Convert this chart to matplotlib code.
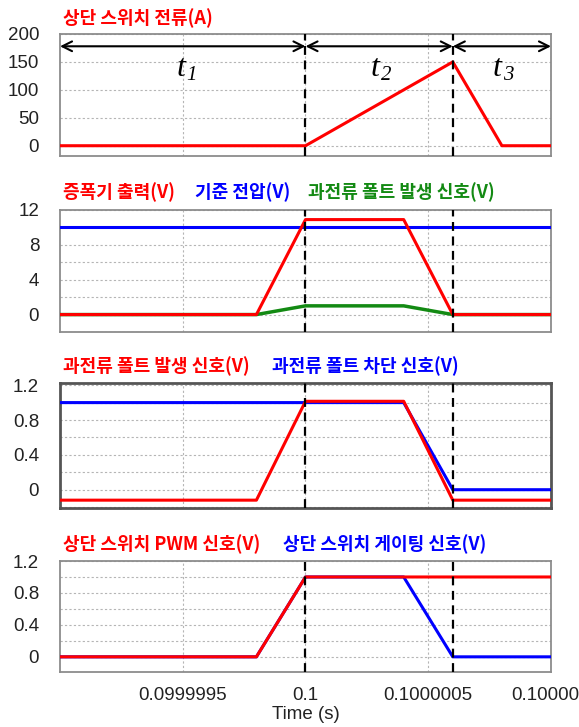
import matplotlib
matplotlib.use("Agg")
import matplotlib.pyplot as plt
from matplotlib.ticker import FixedLocator, MultipleLocator

plt.rcParams['font.family'] = ['Liberation Sans', 'DejaVu Sans']

# time axis (s)
x_lo, x_hi = 0.099999, 0.100001
x_ticks = [0.0999995, 0.1, 0.1000005, 0.100001]
x_ticklabels = ["0.0999995", "0.1", "0.1000005", "0.100001"]
t_marks = [0.1, 0.1000006]          # dashed event lines

# panel 1: upper switch current (A)
cur_t = [0.099999, 0.1, 0.1000006, 0.1000008, 0.100001]
cur_a = [0, 0, 150, 0, 0]

# panel 2: amplifier output, reference, fault signal (V)
amp_t = [0.099999, 0.0999998, 0.1, 0.1000004, 0.1000006, 0.100001]
amp_v = [0, 0, 10.9, 10.9, 0, 0]
ref_t = [0.099999, 0.100001]
ref_v = [10, 10]
flt_v = [0, 0, 1, 1, 0, 0]

# panel 3: fault signal vs trip signal (V)
flt2_v = [-0.12, -0.12, 1.015, 1.015, -0.12, -0.12]
trip_t = [0.099999, 0.1000004, 0.1000006, 0.100001]
trip_v = [1, 1, 0, 0]

# panel 4: PWM vs gating (V)
pwm_t = [0.099999, 0.0999998, 0.1, 0.100001]
pwm_v = [0, 0, 1, 1]
gate_t = amp_t
gate_v = [0, 0, 1, 1, 0, 0]

# interval arrows in panel 1
arrow_y = 178
spans = [(x_lo, 0.1, "1"), (0.1, 0.1000006, "2"), (0.1000006, x_hi, "3")]
span_label_x = [0.09999951, 0.1000003, 0.1000008]
span_label_y = 139

RED, BLUE, GREEN = "#ff0000", "#0000ff", "#138a13"
KR = ['Noto Sans CJK KR', 'DejaVu Sans']
SERIF = ['Liberation Serif', 'DejaVu Serif']
TICK_FS = 13.5

W, H = 579, 727
fig = plt.figure(figsize=(W / 100, H / 100), dpi=100)


def panel(top, bottom, ylim, major, minor, border="#8c8c8c", bw=1.3):
    ax = fig.add_axes([60 / W, 1 - bottom / H, 491 / W, (bottom - top) / H])
    ax.set_xlim(x_lo, x_hi)
    ax.set_ylim(*ylim)
    ax.xaxis.set_major_locator(FixedLocator(x_ticks))
    ax.yaxis.set_major_locator(MultipleLocator(major))
    ax.yaxis.set_minor_locator(MultipleLocator(minor))
    ax.grid(True, which='both', color="#b5b5b5", ls=(0, (2, 2)), lw=0.8)
    ax.tick_params(which='both', length=0, labelsize=TICK_FS, labelcolor="#222222", pad=15)
    ax.tick_params(axis='x', pad=11)
    ax.set_xticklabels([])
    for s in ax.spines.values():
        s.set_color(border)
        s.set_linewidth(bw)
    for xm in t_marks:
        ax.axvline(xm, color="black", ls=(0, (4, 2.5)), lw=1.6, zorder=5)
    ax.set_axisbelow(True)
    return ax


def title(y, parts):
    for x, txt, c in parts:
        fig.text(x / W, 1 - y / H, txt, color=c, fontsize=13, fontweight='bold',
                 family=KR, va='center', ha='left')


ax1 = panel(34, 156, (-18.4, 200), 50, 50)
ax1.plot(cur_t, cur_a, color=RED, lw=2.2, zorder=4)
for (a, b, sub), lx in zip(spans, span_label_x):
    ax1.annotate("", xy=(b, arrow_y), xytext=(a, arrow_y),
                 arrowprops=dict(arrowstyle="<->,head_length=0.7,head_width=0.35",
                                 color="black", lw=1.5, shrinkA=0, shrinkB=0),
                 annotation_clip=False, zorder=6)
    # italic t with italic subscript index
    ax1.text(lx, span_label_y, "t", fontsize=23, family=SERIF, style='italic',
             ha='right', va='center')
    ax1.annotate(sub, (lx, span_label_y), xytext=(1, -5), textcoords='offset points',
                 fontsize=15, family=SERIF, style='italic', ha='left', va='center')
title(18, [(63, "상단 스위치 전류(A)", RED)])

ax2 = panel(210, 332, (-2, 12), 4, 2)
ax2.plot(ref_t, ref_v, color=BLUE, lw=2.2, zorder=3)
ax2.plot(amp_t, flt_v, color=GREEN, lw=2.5, zorder=3)
ax2.plot(amp_t, amp_v, color=RED, lw=2.2, zorder=4)
title(192, [(63, "증폭기 출력(V)", RED), (195, "기준 전압(V)", BLUE),
            (308, "과전류 폴트 발생 신호(V)", GREEN)])

ax3 = panel(383, 508, (-0.21, 1.225), 0.4, 0.2, border="#555555", bw=2.0)
ax3.plot(trip_t, trip_v, color=BLUE, lw=2.2, zorder=3)
ax3.plot(amp_t, flt2_v, color=RED, lw=2.2, zorder=4)
title(366, [(63, "과전류 폴트 발생 신호(V)", RED), (272, "과전류 폴트 차단 신호(V)", BLUE)])

ax4 = panel(561, 672, (-0.19, 1.2), 0.4, 0.2)
ax4.plot(gate_t, gate_v, color=BLUE, lw=2.2, zorder=3)
ax4.plot(pwm_t, pwm_v, color=RED, lw=2.2, zorder=4)
ax4.set_xticklabels(x_ticklabels)
ax4.set_xlabel("Time (s)", fontsize=TICK_FS, color="#222222", labelpad=1)
title(544, [(63, "상단 스위치 PWM 신호(V)", RED), (283, "상단 스위치 게이팅 신호(V)", BLUE)])

for ax in (ax1, ax2, ax3, ax4):
    ax.yaxis.set_major_formatter(plt.FuncFormatter(lambda v, p: f"{v:g}"))

fig.savefig("out.png", dpi=100)
